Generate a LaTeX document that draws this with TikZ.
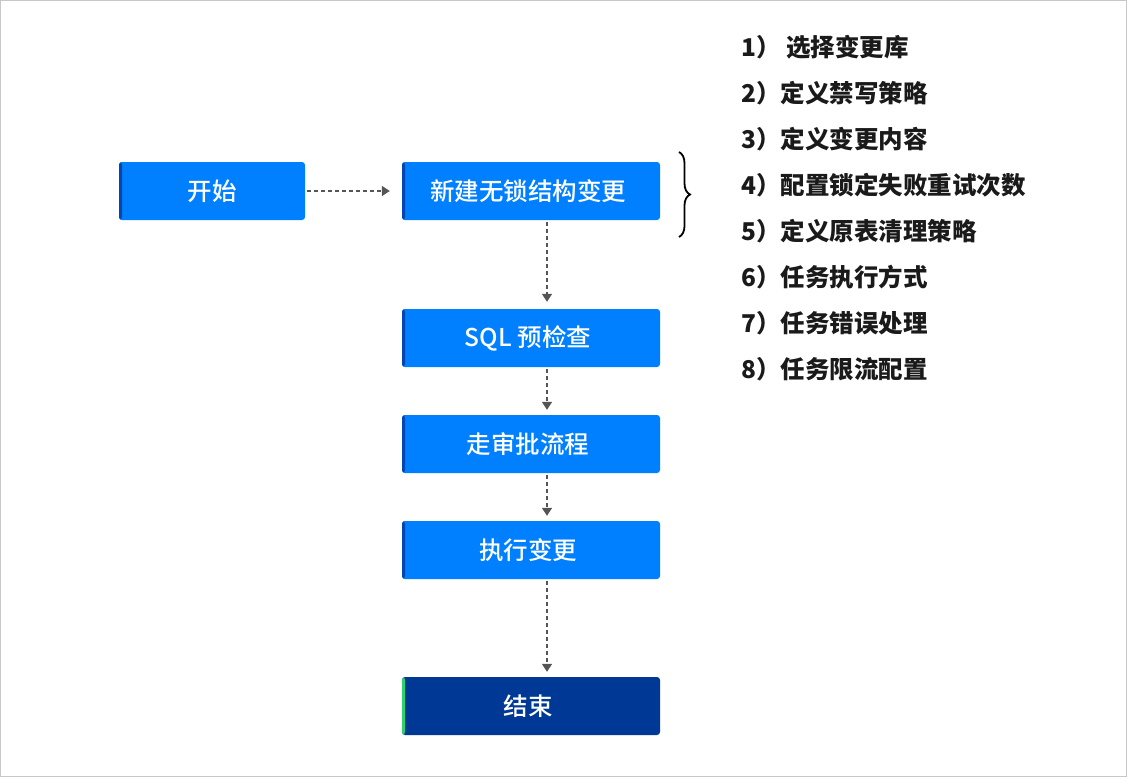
\documentclass[tikz,border=0pt]{standalone}
\usepackage{fontspec}
\newfontfamily\cjk{Noto Sans CJK SC}
\newfontfamily\cjkmed{Noto Sans CJK SC Medium}
\usetikzlibrary{arrows.meta,decorations.pathreplacing}

\definecolor{boxblue}{HTML}{0080FF}
\definecolor{stripeblue}{HTML}{0047B3}
\definecolor{endnavy}{HTML}{003995}
\definecolor{endgreen}{HTML}{2BD46A}
\definecolor{arrowgray}{HTML}{555555}
\definecolor{textdark}{HTML}{1A1A1A}

\tikzset{
  flowbase/.style={rounded corners=3pt, fill=boxblue, text=white,
    minimum width=258pt, minimum height=58pt, inner sep=0pt,
    font=\cjkmed\fontsize{24.5}{29}\selectfont,
    path picture={\fill[#1] (path picture bounding box.south west)
      rectangle ([xshift=3pt]path picture bounding box.north west);}},
  flowbase/.default=stripeblue,
  flowbox/.style={flowbase=#1, execute at begin node={\kern-6pt}},
  flowbox/.default=stripeblue,
  flowarrow/.style={->, dash pattern=on 4pt off 3pt, line width=1.5pt, arrowgray},
  listitem/.style={anchor=west, inner sep=0pt, text=textdark,
    font=\cjk\bfseries\fontsize{24.5}{29}\selectfont}
}

\begin{document}
\begin{tikzpicture}[x=1pt, y=-1pt, >={Triangle[width=10pt,length=8pt]}]
    \useasboundingbox (0,0) rectangle (1127,777);
    \draw[black!22, line width=1pt] (0.5,0.5) rectangle (1126.5,776.5);

    % Flow boxes
    \node[flowbase, minimum width=186pt] (start) at (212,191) {开始};
    \node[flowbox] (create) at (531,191) {新建无锁结构变更};
    \node[flowbox] (check) at (531,338) {SQL 预检查};
    \node[flowbox] (approve) at (531,444) {走审批流程};
    \node[flowbox] (run) at (531,550) {执行变更};
    \node[flowbox=endgreen, fill=endnavy] (finish) at (531,706) {结束};

    % Connectors
    \coordinate (ax) at (547,0);
    \draw[flowarrow, shorten <=2pt, shorten >=12pt] (start.east) -- (create.west);
    \draw[flowarrow, shorten <=2pt, shorten >=7pt] (create.south -| ax) -- (check.north -| ax);
    \draw[flowarrow, shorten <=2pt, shorten >=5pt] (check.south -| ax) -- (approve.north -| ax);
    \draw[flowarrow, shorten <=2pt, shorten >=5pt] (approve.south -| ax) -- (run.north -| ax);
    \draw[flowarrow, shorten <=2pt, shorten >=5pt] (run.south -| ax) -- (finish.north -| ax);

    % Brace and option list
    \draw[decorate, decoration={brace, amplitude=11pt}, line width=1.8pt]
      (679,152) -- (679,237);
    \foreach \i/\t in {1/{1）\ 选择变更库}, 2/{2）定义禁写策略}, 3/{3）定义变更内容},
      4/{4）配置锁定失败重试次数}, 5/{5）定义原表清理策略}, 6/{6）任务执行方式},
      7/{7）任务错误处理}, 8/{8）任务限流配置}}
      \node[listitem] (item\i) at (741,{47+46*(\i-1)}) {\t};
\end{tikzpicture}
\end{document}
